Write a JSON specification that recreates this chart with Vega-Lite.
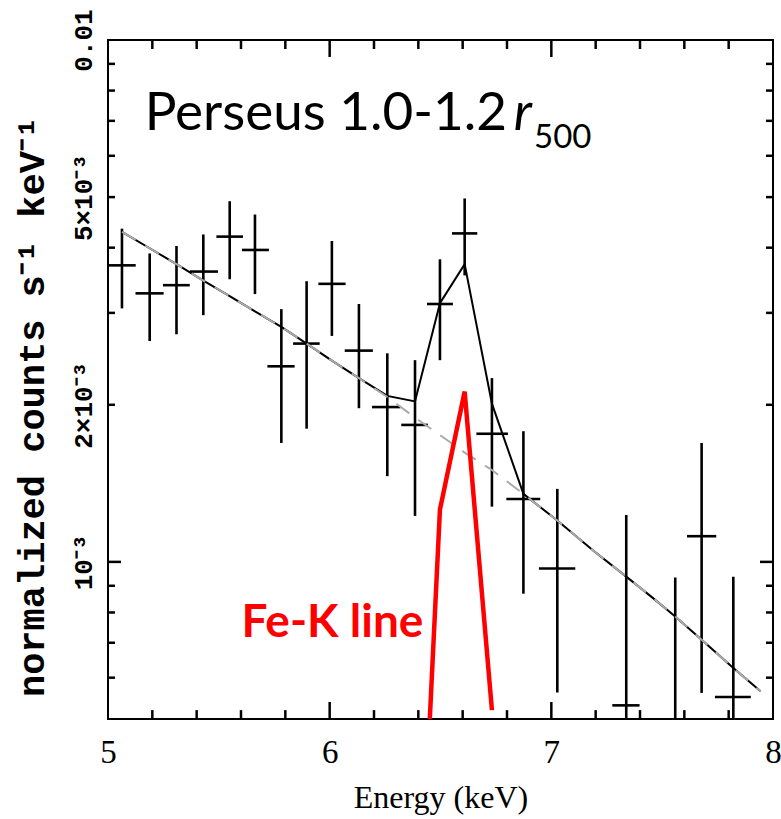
{
  "$schema": "https://vega.github.io/schema/vega-lite/v6.json",
  "width": 665,
  "height": 679,
  "autosize": {"type": "none"},
  "padding": {"left": 108, "top": 40, "right": 8, "bottom": 100},
  "background": "white",
  "config": {
    "view": {"stroke": "black", "strokeWidth": 2},
    "axis": {"grid": false, "domain": false, "ticks": false, "labelColor": "black", "titleColor": "black", "labelOverlap": false, "labelFlush": false, "labelBound": false}
  },
  "datasets": {
    "pts": [
      {"E": 5.063, "elo": 5.0, "ehi": 5.125, "v": 0.00370, "vlo": 0.00306, "vhi": 0.00435},
      {"E": 5.188, "elo": 5.124, "ehi": 5.251, "v": 0.00327, "vlo": 0.00265, "vhi": 0.00390},
      {"E": 5.309, "elo": 5.248, "ehi": 5.369, "v": 0.00339, "vlo": 0.00273, "vhi": 0.00403},
      {"E": 5.430, "elo": 5.369, "ehi": 5.496, "v": 0.00360, "vlo": 0.00297, "vhi": 0.00424},
      {"E": 5.549, "elo": 5.489, "ehi": 5.609, "v": 0.00420, "vlo": 0.00348, "vhi": 0.00491},
      {"E": 5.663, "elo": 5.604, "ehi": 5.726, "v": 0.00396, "vlo": 0.00326, "vhi": 0.00463},
      {"E": 5.782, "elo": 5.719, "ehi": 5.842, "v": 0.00237, "vlo": 0.00169, "vhi": 0.00305},
      {"E": 5.896, "elo": 5.835, "ehi": 5.955, "v": 0.00262, "vlo": 0.00180, "vhi": 0.00345},
      {"E": 6.010, "elo": 5.949, "ehi": 6.072, "v": 0.00341, "vlo": 0.00271, "vhi": 0.00412},
      {"E": 6.132, "elo": 6.068, "ehi": 6.195, "v": 0.00254, "vlo": 0.00197, "vhi": 0.00312},
      {"E": 6.260, "elo": 6.191, "ehi": 6.319, "v": 0.00198, "vlo": 0.00146, "vhi": 0.00251},
      {"E": 6.385, "elo": 6.323, "ehi": 6.443, "v": 0.00183, "vlo": 0.001225, "vhi": 0.002435},
      {"E": 6.4975, "elo": 6.439, "ehi": 6.556, "v": 0.00312, "vlo": 0.002435, "vhi": 0.00380},
      {"E": 6.609, "elo": 6.552, "ehi": 6.666, "v": 0.00426, "vlo": 0.00354, "vhi": 0.00497},
      {"E": 6.732, "elo": 6.662, "ehi": 6.804, "v": 0.00176, "vlo": 0.001276, "vhi": 0.00225},
      {"E": 6.874, "elo": 6.797, "ehi": 6.950, "v": 0.00132, "vlo": 0.000869, "vhi": 0.00178},
      {"E": 7.027, "elo": 6.944, "ehi": 7.108, "v": 0.000971, "vlo": 0.000562, "vhi": 0.00138},
      {"E": 7.338, "elo": 7.275, "ehi": 7.398, "v": 0.000531, "vlo": 0.0002, "vhi": 0.00123},
      {"E": 7.559, "elo": 7.507, "ehi": 7.612, "v": 0.00035, "vlo": 0.00015, "vhi": 0.000933},
      {"E": 7.678, "elo": 7.612, "ehi": 7.744, "v": 0.00112, "vlo": 0.000561, "vhi": 0.00169},
      {"E": 7.821, "elo": 7.738, "ehi": 7.900, "v": 0.000551, "vlo": 0.0002, "vhi": 0.000937}
    ],
    "model": [
      {"E": 5.063, "total": 0.00429, "cont": 0.00429},
      {"E": 5.188, "total": 0.00399, "cont": 0.00399},
      {"E": 5.309, "total": 0.00372, "cont": 0.00372},
      {"E": 5.430, "total": 0.00346, "cont": 0.00346},
      {"E": 5.549, "total": 0.00323, "cont": 0.00323},
      {"E": 5.663, "total": 0.00302, "cont": 0.00302},
      {"E": 5.782, "total": 0.00282, "cont": 0.00282},
      {"E": 5.896, "total": 0.00262, "cont": 0.00262},
      {"E": 6.010, "total": 0.00243, "cont": 0.00243},
      {"E": 6.132, "total": 0.00225, "cont": 0.00225},
      {"E": 6.260, "total": 0.00208, "cont": 0.00207},
      {"E": 6.385, "total": 0.00203, "cont": 0.00189},
      {"E": 6.4975, "total": 0.00313, "cont": 0.00175},
      {"E": 6.609, "total": 0.00372, "cont": 0.00162},
      {"E": 6.732, "total": 0.00201, "cont": 0.00150},
      {"E": 6.874, "total": 0.00135, "cont": 0.00135},
      {"E": 7.027, "total": 0.00120, "cont": 0.00120},
      {"E": 7.19, "total": 0.00105, "cont": 0.00105},
      {"E": 7.338, "total": 0.000937, "cont": 0.000937},
      {"E": 7.452, "total": 0.000857, "cont": 0.000857},
      {"E": 7.559, "total": 0.000786, "cont": 0.000786},
      {"E": 7.678, "total": 0.000709, "cont": 0.000709},
      {"E": 7.821, "total": 0.000626, "cont": 0.000626},
      {"E": 7.944, "total": 0.000565, "cont": 0.000565}
    ],
    "fe": [
      {"E": 6.385, "fe": 0.00013},
      {"E": 6.4975, "fe": 0.00126},
      {"E": 6.609, "fe": 0.00212},
      {"E": 6.732, "fe": 0.00052}
    ],
    "xminor": [{"t": 5.2}, {"t": 5.4}, {"t": 5.6}, {"t": 5.8}, {"t": 6.2}, {"t": 6.4}, {"t": 6.6}, {"t": 6.8}, {"t": 7.2}, {"t": 7.4}, {"t": 7.6}, {"t": 7.8}],
    "xmajor": [{"t": 6}, {"t": 7}],
    "yminor": [{"t": 0.0006}, {"t": 0.0007}, {"t": 0.0008}, {"t": 0.0009}, {"t": 0.002}, {"t": 0.003}, {"t": 0.004}, {"t": 0.005}, {"t": 0.006}, {"t": 0.007}, {"t": 0.008}, {"t": 0.009}],
    "ymajor": [{"t": 0.001}]
  },
  "resolve": {"axis": {"x": "independent", "y": "independent"}},
  "layer": [
    {
      "data": {"name": "pts"},
      "mark": {"type": "rule", "strokeWidth": 2.6, "color": "black", "clip": true},
      "encoding": {
        "x": {"field": "E", "type": "quantitative",
          "scale": {"domain": [5, 8], "nice": false, "zero": false},
          "axis": {"orient": "bottom", "ticks": false,
            "values": [5, 6, 7, 8],
            "labelExpr": "format(datum.value, 'd')",
            "labelFont": "Liberation Serif", "labelFontSize": 33, "labelPadding": 43, "labelBaseline": "alphabetic", "labelAlign": "center",
            "title": "Energy (keV)", "titleFont": "Liberation Serif", "titleFontSize": 32, "titleFontWeight": "normal",
            "titleY": 88, "titleBaseline": "alphabetic", "titleAlign": "center"}},
        "y": {"field": "vlo", "type": "quantitative",
          "scale": {"type": "log", "domain": [0.0005, 0.01], "nice": false},
          "axis": {"orient": "left", "ticks": false,
            "values": [0.001, 0.002, 0.005, 0.01],
            "labelExpr": "datum.value == 0.01 ? '0.01' : datum.value == 0.005 ? '5×10⁻³' : datum.value == 0.002 ? '2×10⁻³' : '10⁻³'",
            "labelAngle": 270, "labelAlign": "center", "labelBaseline": "alphabetic",
            "labelFont": "Liberation Mono", "labelFontWeight": "bold", "labelFontSize": 26, "labelPadding": 16.3,
            "title": "normalized counts s⁻¹ keV⁻¹", "titleFont": "Liberation Mono", "titleFontWeight": "bold", "titleFontSize": 37,
            "titleAngle": 270, "titleX": -65, "titleY": 366, "titleAlign": "center", "titleBaseline": "alphabetic"}},
        "y2": {"field": "vhi"}
      }
    },
    {
      "data": {"name": "pts"},
      "mark": {"type": "rule", "strokeWidth": 2.6, "color": "black", "clip": true},
      "encoding": {
        "x": {"field": "elo", "type": "quantitative", "axis": null},
        "x2": {"field": "ehi"},
        "y": {"field": "v", "type": "quantitative", "axis": null}
      }
    },
    {
      "data": {"name": "model"},
      "mark": {"type": "line", "strokeWidth": 2, "color": "black", "clip": true},
      "encoding": {
        "x": {"field": "E", "type": "quantitative", "axis": null},
        "y": {"field": "total", "type": "quantitative", "axis": null}
      }
    },
    {
      "data": {"name": "model"},
      "mark": {"type": "line", "strokeWidth": 2, "color": "#aaaaaa", "strokeDash": [16, 11], "clip": true},
      "encoding": {
        "x": {"field": "E", "type": "quantitative", "axis": null},
        "y": {"field": "cont", "type": "quantitative", "axis": null}
      }
    },
    {
      "data": {"name": "fe"},
      "mark": {"type": "line", "strokeWidth": 4.5, "color": "#ff0000", "clip": true},
      "encoding": {
        "x": {"field": "E", "type": "quantitative", "axis": null},
        "y": {"field": "fe", "type": "quantitative", "axis": null}
      }
    },
    {
      "data": {"name": "xminor"},
      "mark": {"type": "rule", "strokeWidth": 2.5, "color": "black"},
      "encoding": {
        "x": {"field": "t", "type": "quantitative", "axis": null},
        "y": {"datum": 0.0005, "type": "quantitative", "axis": null},
        "y2": {"datum": 0.00052}
      }
    },
    {
      "data": {"name": "xmajor"},
      "mark": {"type": "rule", "strokeWidth": 2.5, "color": "black"},
      "encoding": {
        "x": {"field": "t", "type": "quantitative", "axis": null},
        "y": {"datum": 0.0005, "type": "quantitative", "axis": null},
        "y2": {"datum": 0.000539}
      }
    },
    {
      "data": {"name": "xminor"},
      "mark": {"type": "rule", "strokeWidth": 2.5, "color": "black"},
      "encoding": {
        "x": {"field": "t", "type": "quantitative", "axis": null},
        "y": {"datum": 0.01, "type": "quantitative", "axis": null},
        "y2": {"datum": 0.00961}
      }
    },
    {
      "data": {"name": "xmajor"},
      "mark": {"type": "rule", "strokeWidth": 2.5, "color": "black"},
      "encoding": {
        "x": {"field": "t", "type": "quantitative", "axis": null},
        "y": {"datum": 0.01, "type": "quantitative", "axis": null},
        "y2": {"datum": 0.009278}
      }
    },
    {
      "data": {"name": "yminor"},
      "mark": {"type": "rule", "strokeWidth": 2.5, "color": "black"},
      "encoding": {
        "y": {"field": "t", "type": "quantitative", "axis": null},
        "x": {"datum": 5, "type": "quantitative", "axis": null},
        "x2": {"datum": 5.0316}
      }
    },
    {
      "data": {"name": "ymajor"},
      "mark": {"type": "rule", "strokeWidth": 2.5, "color": "black"},
      "encoding": {
        "y": {"field": "t", "type": "quantitative", "axis": null},
        "x": {"datum": 5, "type": "quantitative", "axis": null},
        "x2": {"datum": 5.0586}
      }
    },
    {
      "data": {"name": "yminor"},
      "mark": {"type": "rule", "strokeWidth": 2.5, "color": "black"},
      "encoding": {
        "y": {"field": "t", "type": "quantitative", "axis": null},
        "x": {"datum": 8, "type": "quantitative", "axis": null},
        "x2": {"datum": 7.9684}
      }
    },
    {
      "data": {"name": "ymajor"},
      "mark": {"type": "rule", "strokeWidth": 2.5, "color": "black"},
      "encoding": {
        "y": {"field": "t", "type": "quantitative", "axis": null},
        "x": {"datum": 8, "type": "quantitative", "axis": null},
        "x2": {"datum": 7.9414}
      }
    },
    {
      "data": {"values": [{}]},
      "mark": {"type": "text", "text": "Perseus 1.0-1.2", "font": "Lato", "fontSize": 53, "align": "left", "baseline": "alphabetic", "color": "black"},
      "encoding": {
        "x": {"datum": 5.1655, "type": "quantitative", "axis": null},
        "y": {"datum": 0.00671, "type": "quantitative", "axis": null}
      }
    },
    {
      "data": {"values": [{}]},
      "mark": {"type": "text", "text": "r", "font": "Lato", "fontStyle": "italic", "fontSize": 53, "align": "left", "baseline": "alphabetic", "color": "black"},
      "encoding": {
        "x": {"datum": 6.83, "type": "quantitative", "axis": null},
        "y": {"datum": 0.00671, "type": "quantitative", "axis": null}
      }
    },
    {
      "data": {"values": [{}]},
      "mark": {"type": "text", "text": "500", "font": "Lato", "fontSize": 33, "align": "left", "baseline": "alphabetic", "color": "black"},
      "encoding": {
        "x": {"datum": 6.922, "type": "quantitative", "axis": null},
        "y": {"datum": 0.006217, "type": "quantitative", "axis": null}
      }
    },
    {
      "data": {"values": [{}]},
      "mark": {"type": "text", "text": "Fe-K line", "font": "Lato", "fontWeight": "bold", "fontSize": 46, "align": "left", "baseline": "alphabetic", "color": "#ff0000"},
      "encoding": {
        "x": {"datum": 5.6017, "type": "quantitative", "axis": null},
        "y": {"datum": 0.000719, "type": "quantitative", "axis": null}
      }
    }
  ]
}
